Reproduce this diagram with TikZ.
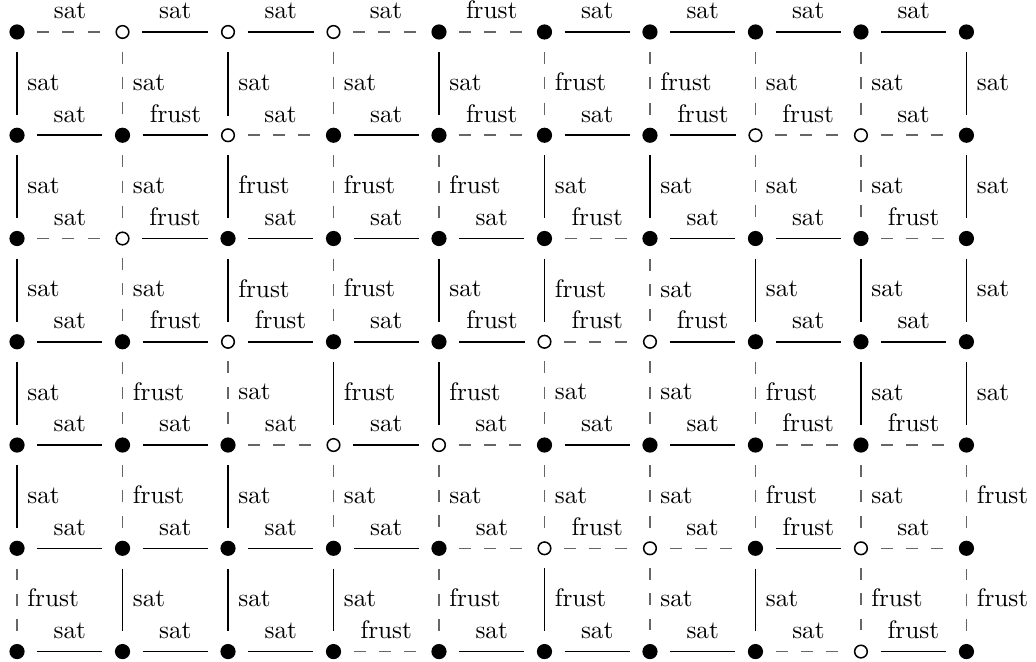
\documentclass[tikz,border=0pt]{standalone}
\begin{document}
\begin{tikzpicture}[
  every node/.style={font=\normalsize},
  spin1/.style={circle, draw=black, fill=black, line width=0.6pt,
                minimum size=5.4pt, inner sep=0pt},
  spin0/.style={circle, draw=black, fill=white, line width=0.6pt,
                minimum size=5pt, inner sep=0pt},
  fbond/.style={black, line width=0.6pt,
                shorten <=5pt, shorten >=5pt},
  abond/.style={black!60, line width=0.6pt,
                dash pattern=on 4.7pt off 5.3pt,
                shorten <=5pt, shorten >=5pt},
  lab/.style={text=black, inner sep=3.8pt,
              text height=1.5ex, text depth=0.25ex}
]
  \useasboundingbox (-0.237,0.445) rectangle (14.18,-8.767);

  % ---- spins, 1 = up (filled), 0 = down (open) ------------------------
  \foreach \spins [count=\r from 0] in {
      {1,0,0,0,1,1,1,1,1,1},
      {1,1,0,1,1,1,1,0,0,1},
      {1,0,1,1,1,1,1,1,1,1},
      {1,1,0,1,1,0,0,1,1,1},
      {1,1,1,0,0,1,1,1,1,1},
      {1,1,1,1,1,0,0,1,0,1},
      {1,1,1,1,1,1,1,1,0,1}}
    \foreach \s [count=\c from 0] in \spins
      \node[spin\s] (s-\r-\c) at ({1.468*\c},{-1.437*\r}) {};

  % ---- horizontal bonds, f = ferro (solid), a = anti (dashed) ---------
  \foreach \bonds [count=\r from 0] in {
      {a/sat,f/sat,f/sat,a/sat,a/frust,f/sat,f/sat,f/sat,f/sat},
      {f/sat,f/frust,a/sat,f/sat,a/frust,f/sat,f/frust,a/frust,a/sat},
      {a/sat,f/frust,f/sat,f/sat,f/sat,a/frust,f/sat,f/sat,a/frust},
      {f/sat,f/frust,f/frust,f/sat,f/frust,a/frust,f/frust,f/sat,f/sat},
      {f/sat,f/sat,a/sat,f/sat,a/sat,f/sat,f/sat,a/frust,a/frust},
      {f/sat,f/sat,f/sat,f/sat,a/sat,a/frust,a/sat,f/frust,a/sat},
      {f/sat,f/sat,f/sat,a/frust,f/sat,f/sat,f/sat,a/sat,f/frust}}
    \foreach \k/\l [count=\c from 0] in \bonds {
      \pgfmathtruncatemacro\cn{\c+1}
      \draw[\k bond] (s-\r-\c) -- (s-\r-\cn) node[lab, midway, above] {\l};
    }

  % ---- vertical bonds ------------------------------------------------
  \foreach \bonds [count=\r from 0] in {
      {f/sat,a/sat,f/sat,a/sat,f/sat,a/frust,a/frust,a/sat,a/sat,f/sat},
      {f/sat,a/sat,f/frust,a/frust,a/frust,f/sat,f/sat,a/sat,a/sat,f/sat},
      {f/sat,a/sat,f/frust,a/frust,f/sat,f/frust,a/sat,f/sat,f/sat,f/sat},
      {f/sat,a/frust,a/sat,f/frust,f/frust,a/sat,a/sat,a/frust,f/sat,f/sat},
      {f/sat,a/frust,f/sat,a/sat,a/sat,a/sat,a/sat,a/frust,a/sat,a/frust},
      {a/frust,f/sat,f/sat,f/sat,a/frust,f/frust,a/sat,f/sat,a/frust,a/frust}}
    \foreach \k/\l [count=\c from 0] in \bonds {
      \pgfmathtruncatemacro\rn{\r+1}
      \draw[\k bond] (s-\r-\c) -- (s-\rn-\c) node[lab, midway, right] {\l};
    }
\end{tikzpicture}
\end{document}
